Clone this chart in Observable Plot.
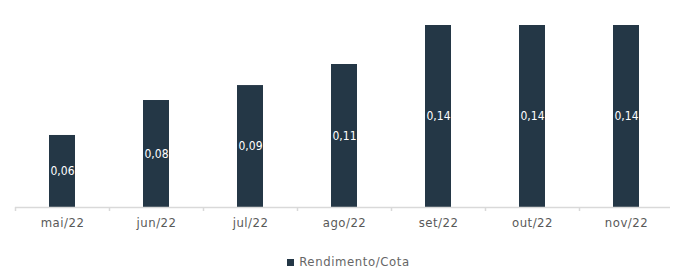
<!DOCTYPE html>
<html>
<head>
<meta charset="utf-8">
<script src="https://cdn.jsdelivr.net/npm/d3@7"></script>
<script src="https://cdn.jsdelivr.net/npm/@observablehq/plot@0.6"></script>
<style>
  body { margin: 0; background: #fff; font-family: "DejaVu Sans Condensed", "DejaVu Sans", sans-serif; }
  #legend { margin-top: 15px; text-align: center; font-size: 13px; line-height: 14px; color: #666; padding-left: 20px; letter-spacing: 0.6px; }
  #legend .sw { display: inline-block; width: 7px; height: 7px; background: #243746; margin-right: 5px; vertical-align: 0px; }
</style>
</head>
<body>
<div id="chart"></div>
<div id="legend"><span class="sw"></span>Rendimento/Cota</div>
<script>
const months = ["mai/22", "jun/22", "jul/22", "ago/22", "set/22", "out/22", "nov/22"];
const values = [0.0554, 0.0823, 0.0938, 0.11, 0.14, 0.14, 0.14];
const seriesName = "Rendimento/Cota";

const data = months.map((m, i) => ({ m, v: values[i] }));
const W = 677, ML = 15, MR = 4;
const step = (W - ML - MR) / months.length;
const fmt = v => v.toLocaleString("pt-BR", { minimumFractionDigits: 2, maximumFractionDigits: 2 });
const font = "DejaVu Sans Condensed, DejaVu Sans, sans-serif";

const chart = Plot.plot({
  width: W,
  height: 240,
  marginLeft: ML,
  marginRight: MR,
  marginTop: 25,
  marginBottom: 33,
  style: { fontFamily: font, background: "#fff" },
  x: { domain: months, paddingInner: 0.72, paddingOuter: 0.36, label: null },
  y: { domain: [0, 0.14], axis: null },
  marks: [
    Plot.barY(data, { x: "m", y: "v", fill: "#243746" }),
    Plot.ruleY([0], { stroke: "#d9d9d9", strokeWidth: 1.5, insetRight: 3 }),
    Plot.axisX({ tickSize: 4, dx: -step / 2, text: null, stroke: "#d9d9d9", strokeWidth: 1.5 }),
    Plot.axisX({ tickSize: 0, tickPadding: 10, fontSize: 13, fill: "#595959", style: "letter-spacing:0.5px" }),
    Plot.text(data, { x: "m", y: d => d.v / 2, text: d => fmt(d.v), fill: "#ffffff", fontSize: 12 })
  ]
});
chart.querySelectorAll("g[aria-label='x-axis tick label'] text").forEach(t => t.setAttribute("letter-spacing", "0.5"));
document.getElementById("chart").appendChild(chart);
</script>
</body>
</html>
